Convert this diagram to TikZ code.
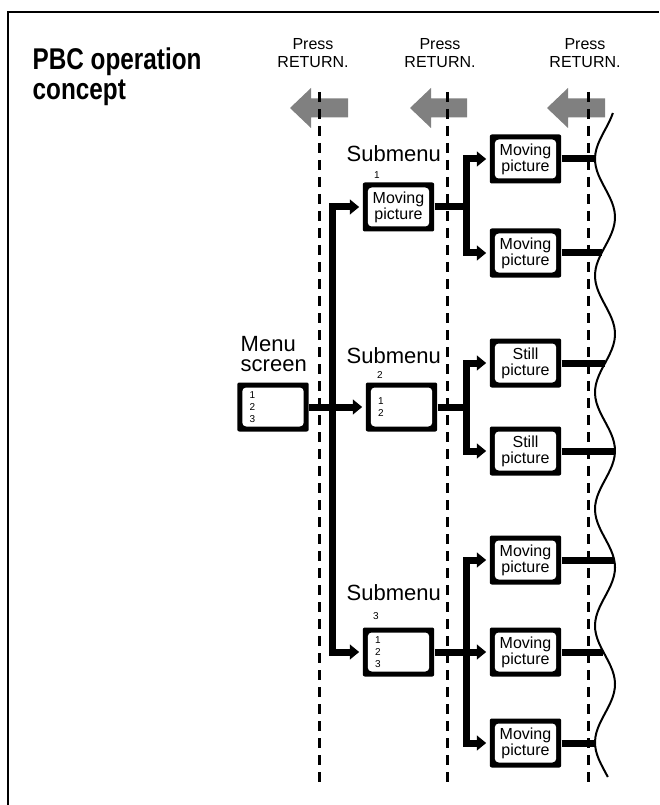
\documentclass[tikz,border=0pt]{standalone}
\usepackage{fontspec}
\setmainfont{Liberation Sans}
\newfontfamily\titlefont{Liberation Sans}[FakeStretch=0.81]
\usetikzlibrary{arrows.meta}
\newcommand\wavex[1]{605-10*cos((#1-159)*3.0848)}

\tikzset{
 scr/.style={fill=black,rounded corners=1.5pt,inner sep=0pt,minimum width=53.6pt,minimum height=36.75pt,
  align=center,font=\fontsize{12}{12}\selectfont,
  path picture={\fill[white,rounded corners=3pt]
   ([shift={(3.75pt,3.75pt)}]path picture bounding box.south west) rectangle
   ([shift={(-3.75pt,-3.75pt)}]path picture bounding box.north east);}},
 scrlist/.style={scr,text width=35pt,align=left,font=\fontsize{7.5}{9}\selectfont},
 link/.style={line width=5.25pt},
 conn/.style={link,-{Triangle[length=7pt,width=11pt]},shorten >=2.5pt},
 ret/.style={line width=2.25pt,dash pattern=on 7.5pt off 5.25pt},
 back/.style={fill=black!50},
 wave/.style={line width=1.5pt},
 press/.style={anchor=base,align=center,font=\fontsize{12}{13.5}\selectfont},
 lbl/.style={anchor=base west,align=left,font=\fontsize{16.5}{15}\selectfont},
 num/.style={font=\fontsize{7.5}{9}\selectfont}
}

\begin{document}
\begin{tikzpicture}[x=0.75pt,y=-0.75pt]
 \useasboundingbox (0,0) rectangle (659,805);
 \draw[line width=1.2pt] (8,805)--(8,12)--(659,12);
 \node[anchor=base west,align=left,font=\titlefont\bfseries\fontsize{22.5}{22.5}\selectfont] (title) at (28,100) {PBC operation\\concept};

 \foreach \t/\l in {290/348,410/467,547/605}
  \fill[back] (\t,108)--(\t+21,88)--(\t+21,98.5)--(\l,98.5)--(\l,117.5)--(\t+21,117.5)--(\t+21,128)--cycle;
 \foreach \x in {319,447,588}
  \draw[ret] (\x,92)--(\x,783);
 \node[press] (ret1) at (313,68) {Press\\RETURN.};
 \node[press] (ret2) at (440,68) {Press\\RETURN.};
 \node[press] (ret3) at (585,68) {Press\\RETURN.};

 \node[scrlist] (menu) at (273,407) {1\\2\\3};
 \node[lbl] (menulbl) at (236,371) {Menu\\screen};
 \node[scr] (sub1) at (398.5,207) {Moving\\picture};
 \node[scrlist] (sub2) at (401.5,407) {1\\2};
 \node[scrlist] (sub3) at (398.5,652) {1\\2\\3};
 \node[lbl] (sub1lbl) at (342,162) {Submenu};
 \node[lbl] (sub2lbl) at (342,363) {Submenu};
 \node[lbl] (sub3lbl) at (342,600) {Submenu};
 \node[num] (sub1num) at (377,175) {1};
 \node[num] (sub2num) at (380,375) {2};
 \node[num] (sub3num) at (376,616) {3};

 \node[scr] (pic11) at (525.5,159) {Moving\\picture};
 \node[scr] (pic12) at (525.5,253) {Moving\\picture};
 \node[scr] (pic21) at (525.5,363) {Still\\picture};
 \node[scr] (pic22) at (525.5,451) {Still\\picture};
 \node[scr] (pic31) at (525.5,560) {Moving\\picture};
 \node[scr] (pic32) at (525.5,652) {Moving\\picture};
 \node[scr] (pic33) at (525.5,743) {Moving\\picture};

 \coordinate (tr) at (332,407);
 \coordinate (tr1) at (466,207);
 \coordinate (tr2) at (466,407);
 \coordinate (tr3) at (466,652);
 \draw[conn] (menu)--(sub2);
 \draw[conn] (tr) |- (sub1);
 \draw[conn] (tr) |- (sub3);
 \draw[link] (sub1)--(tr1);
 \draw[conn] (tr1) |- (pic11);
 \draw[conn] (tr1) |- (pic12);
 \draw[link] (sub2)--(tr2);
 \draw[conn] (tr2) |- (pic21);
 \draw[conn] (tr2) |- (pic22);
 \draw[conn] (sub3)--(pic32);
 \draw[conn] (tr3) |- (pic31);
 \draw[conn] (tr3) |- (pic33);

 \draw[wave] plot[domain=113:777,samples=150,variable=\y] ({\wavex{\y}},\y);
 \coordinate (w1) at ({\wavex{159}},159);
 \coordinate (w2) at ({\wavex{253}},253);
 \coordinate (w3) at ({\wavex{363}},363);
 \coordinate (w4) at ({\wavex{451}},451);
 \coordinate (w5) at ({\wavex{560}},560);
 \coordinate (w6) at ({\wavex{652}},652);
 \coordinate (w7) at ({\wavex{743}},743);
 \draw[link] (pic11)--(w1);
 \draw[link] (pic12)--(w2);
 \draw[link] (pic21)--(w3);
 \draw[link] (pic22)--(w4);
 \draw[link] (pic31)--(w5);
 \draw[link] (pic32)--(w6);
 \draw[link] (pic33)--(w7);
\end{tikzpicture}
\end{document}
